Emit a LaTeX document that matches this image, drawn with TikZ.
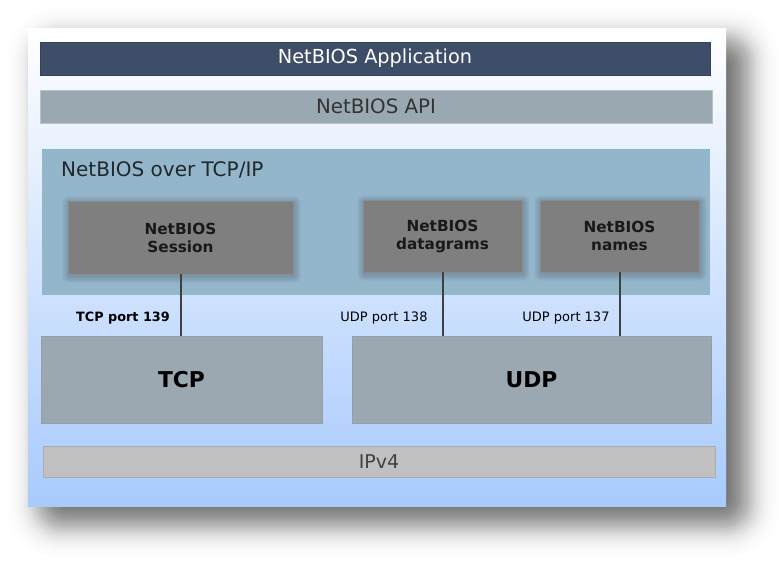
\documentclass[tikz,border=0pt]{standalone}
\usepackage{fontspec}
\setmainfont{DejaVu Sans}
\definecolor{panelbot}{HTML}{A8CAFD}
\definecolor{panelmid}{HTML}{D6E7FF}
\definecolor{appc}{HTML}{3E4E68}
\definecolor{apic}{HTML}{9AA8B1}
\definecolor{overc}{HTML}{94B6CB}
\definecolor{innerc}{HTML}{7F7F7F}
\definecolor{protoc}{HTML}{9BA8B1}
\definecolor{ipc}{HTML}{C0C0C0}
\definecolor{linec}{HTML}{404040}
\tikzset{
  layerbar/.style={rectangle, inner sep=0pt, draw=#1!85!black, line width=0.8pt},
  innerbox/.style={rectangle, inner sep=0pt, fill=innerc, draw=innerc!90!white, line width=0.6pt,
     text=black!90, font=\bfseries\fontsize{15.3}{18}\selectfont, align=center,
     minimum height=72pt},
  protobox/.style={rectangle, inner sep=0pt, fill=protoc, draw=protoc!95!black, line width=0.5pt,
     text=black, font=\bfseries\fontsize{21.8}{25}\selectfont, minimum height=87pt},
  portlbl/.style={inner sep=0pt, text=black, font=\fontsize{13}{15}\selectfont},
  link/.style={draw=linec, line width=2pt}
}
\newcommand{\softshadow}[4]{%
  \foreach \k in {1,...,7}{%
    \fill[black, opacity=0.024, rounded corners=\k pt] (#1-\k+1,#2-\k+2) rectangle (#3+\k+1,#4+\k+2);}}
\begin{document}
\begin{tikzpicture}[x=1pt,y=-1pt]
\useasboundingbox (0,0) rectangle (779,560);
\fill[white] (0,0) rectangle (779,560);
% big blurred drop shadow of the panel (gaussian falloff)
\foreach \e in {-48,-46,...,48}{%
  \pgfmathsetmacro\shop{1-exp(-0.04*exp(-(\e*\e)/512))}%
  \pgfmathsetmacro\shr{max(1,20+0.8*\e)}%
  \fill[black, opacity=\shop, rounded corners=\shr pt] (45-\e,45-\e) rectangle (742+\e,520+\e);}
% panel
\node[rectangle, inner sep=0pt, minimum width=698pt, minimum height=478pt,
      top color=white, middle color=panelmid, bottom color=panelbot, shading angle=0] (panel) at (377,267) {};
% top bars
\node[layerbar=appc, fill=appc, minimum width=670pt, minimum height=33pt,
      text=white, font=\fontsize{19.3}{22}\selectfont] (app) at (375,58.5) {NetBIOS Application};
\node[layerbar=apic, draw=apic!70!white, fill=apic, minimum width=672pt, minimum height=33pt,
      text=black!80, font=\fontsize{19.8}{22}\selectfont] (api) at (376,106.5) {NetBIOS API};
% NetBIOS over TCP/IP area
\node[rectangle, inner sep=0pt, fill=overc, minimum width=668pt, minimum height=146pt] (over) at (376,222) {};
\node[anchor=west, inner sep=0pt, text=black!78!overc, font=\fontsize{20}{22}\selectfont] (overlbl) at (61,170) {NetBIOS over TCP/IP};
% inner boxes with soft shadows
\softshadow{68}{201}{293}{274}
\softshadow{363}{200}{522}{272}
\softshadow{540}{200}{699}{272}
\node[innerbox, minimum width=225pt, minimum height=73pt] (session) at (180.5,237.5) {NetBIOS\\Session};
\node[innerbox, minimum width=159pt] (dgram) at (442.5,236) {NetBIOS\\datagrams};
\node[innerbox, minimum width=159pt] (names) at (619.5,236) {NetBIOS\\names};
% transport boxes
\node[protobox, minimum width=281pt] (tcp) at (181.5,379.5) {TCP};
\node[protobox, minimum width=359pt] (udp) at (531.5,379.5) {UDP};
% IPv4
\node[rectangle, inner sep=0pt, fill=ipc, draw=ipc!90!black, line width=0.5pt, minimum width=672pt, minimum height=31pt,
      text=black!75, font=\fontsize{19}{22}\selectfont] (ip) at (379,461.5) {IPv4};
% connectors
\draw[link] (session.south) -- (session.south |- tcp.north);
\draw[link] (dgram.south) -- (dgram.south |- udp.north);
\draw[link] (names.south) -- (names.south |- udp.north);
% port labels
\node[portlbl, font=\bfseries\fontsize{12.8}{15}\selectfont] (p139) at (123,318) {TCP port 139};
\node[portlbl] (p138) at (384,318) {UDP port 138};
\node[portlbl] (p137) at (566,318) {UDP port 137};
\end{tikzpicture}
\end{document}
